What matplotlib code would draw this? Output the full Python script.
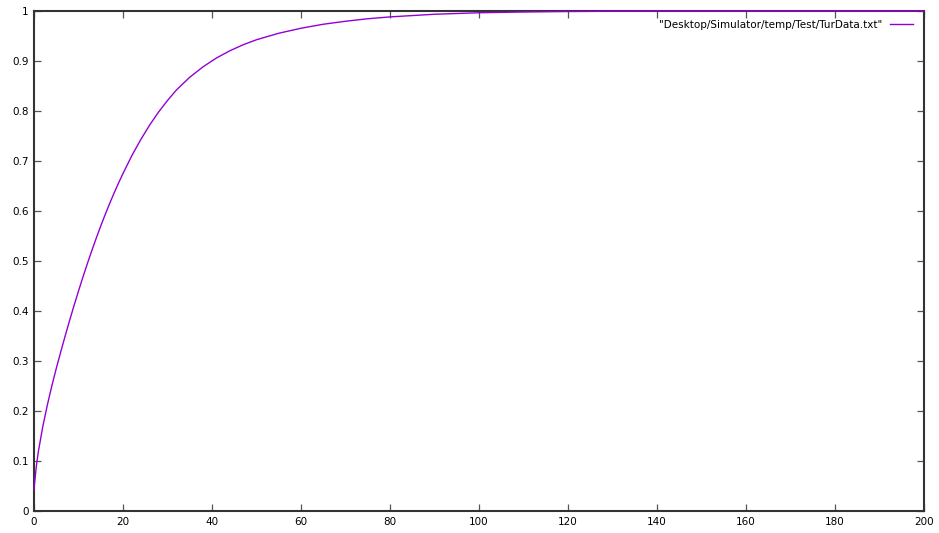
import matplotlib.pyplot as plt
from matplotlib.pyplot import MultipleLocator

# values
x_vals = [0, 0.5, 1, 2, 3, 4, 5, 6, 7, 8, 9, 10, 11, 12, 13, 14, 15, 16, 17, 18, 19, 20,
          22, 24, 26, 28, 30, 32, 35, 38, 41, 44, 47, 50, 55, 60, 65, 70, 75, 80, 90, 100,
          110, 120, 140, 160, 180, 200]
y_vals = [0.043, 0.088, 0.12, 0.17, 0.212, 0.25, 0.285, 0.318, 0.35, 0.381, 0.411, 0.44,
          0.468, 0.495, 0.521, 0.546, 0.57, 0.593, 0.615, 0.636, 0.656, 0.675,
          0.711, 0.743, 0.772, 0.798, 0.821, 0.842, 0.8675, 0.8885, 0.906, 0.9204,
          0.9325, 0.9425, 0.9555, 0.9655, 0.9735, 0.9795, 0.9845, 0.9882, 0.9935, 0.9965,
          0.998, 0.999, 1.0, 1.0, 1.0, 1.0]
label = '"Desktop/Simulator/temp/Test/TurData.txt"'

plt.rcParams.update({
	"font.family": "DejaVu Sans",
})
font_size = 7.5
fig = plt.figure(figsize=(9.39, 5.33), dpi=100)
ax: plt.Axes = fig.add_axes([34 / 939, 22 / 533, 890 / 939, 500 / 533])

ax.plot(x_vals, y_vals, color="#9400D3", linewidth=1.0, label=label, zorder=5, clip_on=False)

# x
ax.set_xlim(0, 200)
ax.xaxis.set_major_locator(MultipleLocator(20))
# y
ax.set_ylim(0, 1)
ax.set_yticks([0, 0.1, 0.2, 0.3, 0.4, 0.5, 0.6, 0.7, 0.8, 0.9, 1])
ax.set_yticklabels(["0", "0.1", "0.2", "0.3", "0.4", "0.5", "0.6", "0.7", "0.8", "0.9", "1"])
ax.tick_params(which='major', direction='in', length=5, width=0.9, color='#555555',
	top=True, right=True, labelsize=font_size, pad=4)
# border
for side in ['left', 'bottom', 'right', 'top']:
	ax.spines[side].set_linewidth(1.5)
	ax.spines[side].set_color('#333333')

ax.legend(loc='upper right', bbox_to_anchor=(0.995, 0.995), frameon=False,
	prop=dict(size=font_size), handlelength=2.2, handletextpad=0.8, markerfirst=False,
	borderaxespad=0.2)

plt.savefig("out.png", dpi=100)
plt.close()
